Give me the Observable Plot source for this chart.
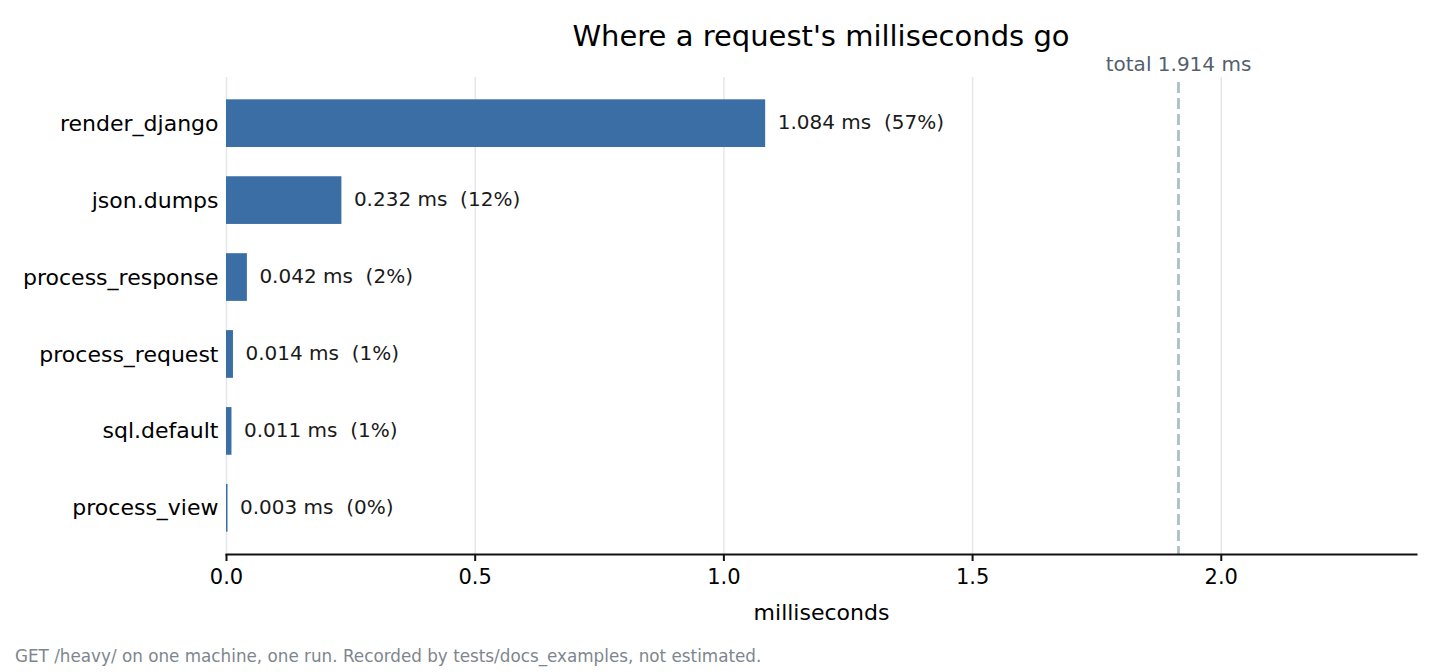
<!DOCTYPE html>
<html>
<head>
<meta charset="utf-8">
<script src="https://cdn.jsdelivr.net/npm/d3@7"></script>
<script src="https://cdn.jsdelivr.net/npm/@observablehq/plot@0.6"></script>
<style>
  html, body { margin: 0; padding: 0; background: #fff; }
  body { width: 1440px; height: 672px; overflow: hidden; font-family: "DejaVu Sans", sans-serif; }
  #title { box-sizing: border-box; width: 1440px; height: 50px; padding-top: 22px; padding-left: 202px; text-align: center; font-size: 29px; line-height: 28px; color: #000; }
  #chart svg { display: block; }
  #caption { box-sizing: border-box; padding-left: 15px; margin-top: 14px; font-size: 16.8px; line-height: 20px; color: #7d868e; }
</style>
</head>
<body>
<div id="title">Where a request's milliseconds go</div>
<div id="chart"></div>
<div id="caption">GET /heavy/ on one machine, one run. Recorded by tests/docs_examples, not estimated.</div>
<script>
const stages = ["render_django", "json.dumps", "process_response", "process_request", "sql.default", "process_view"];
const durations = [1.084, 0.232, 0.042, 0.014, 0.011, 0.003];
const totalMs = 1.914;
const xTicks = [0, 0.5, 1.0, 1.5, 2.0];

const rows = stages.map((name, i) => ({name, value: durations[i]}));
const label = d => `${d.value.toFixed(3)} ms\u00a0 (${Math.round(d.value / totalMs * 100)}%)`;

const chart = Plot.plot({
  width: 1440,
  height: 582,
  marginTop: 27,
  marginBottom: 78,
  marginLeft: 226,
  marginRight: 24,
  style: {fontFamily: "DejaVu Sans", fontSize: "21px", color: "#000", background: "#fff"},
  x: {domain: [0, totalMs * 1.25]},
  y: {domain: stages, paddingInner: 0.38, paddingOuter: 0.29, round: false},
  marks: [
    Plot.gridX(xTicks, {stroke: "#e4e7ea", strokeOpacity: 1, strokeWidth: 1.5}),
    Plot.ruleX([totalMs], {stroke: "#b0bec5", strokeWidth: 2.8, strokeDasharray: "11,5", insetTop: 5}),
    Plot.text([totalMs], {x: d => d, frameAnchor: "top", dy: -21, text: d => `total ${d.toFixed(3)} ms`, fill: "#53606d", fontSize: 20}),
    Plot.barX(rows, {x: "value", y: "name", fill: "#3b6ea5"}),
    Plot.text(rows, {x: "value", y: "name", text: label, textAnchor: "start", dx: 12, dy: -1, fill: "#1a1a1a", fontSize: 20}),
    Plot.frame({anchor: "bottom", stroke: "#111", strokeWidth: 2}),
    Plot.axisY({tickSize: 0, tickPadding: 8, label: null, fontSize: 22}),
    Plot.axisX(xTicks, {tickSize: 7, tickPadding: 8, tickFormat: d3.format(".1f"), fontSize: 21, label: "milliseconds", labelAnchor: "center", labelOffset: 65, labelArrow: "none", strokeWidth: 2, stroke: "#111"}),
  ]
});
chart.querySelectorAll("[aria-label='x-axis label'] text, [aria-label='x-axis label']").forEach(e => e.setAttribute("font-size", 22));
document.getElementById("chart").appendChild(chart);
</script>
</body>
</html>
